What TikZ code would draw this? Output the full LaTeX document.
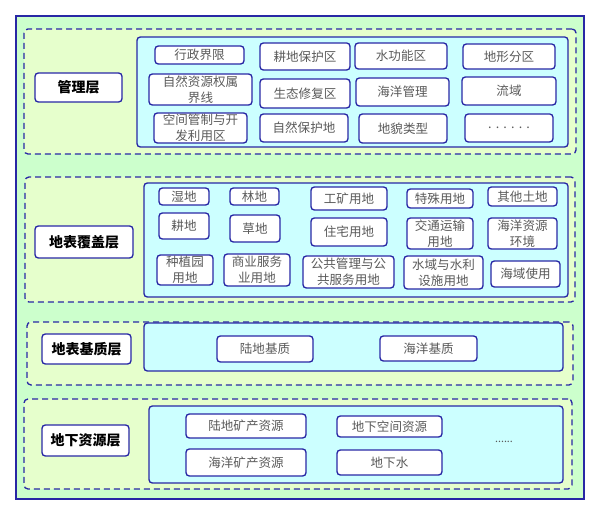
\documentclass[tikz,border=0pt]{standalone}
\usepackage{fontspec}
\newfontfamily\cjk{Noto Sans CJK SC}
\definecolor{outerfill}{HTML}{CCFFCC}
\definecolor{layerfill}{HTML}{E6FFCC}
\definecolor{cyanfill}{HTML}{CCFFFF}
\definecolor{edgeblue}{RGB}{40,40,165}
\definecolor{txtgray}{HTML}{5A5A5A}
\tikzset{
  item/.style={draw=edgeblue, line width=1pt, fill=white, rounded corners=2.5pt,
    inner sep=0pt, outer sep=0pt, align=center, text=txtgray,
    font=\cjk\fontsize{9.4}{12}\selectfont},
  lab/.style={item, text=black, font=\cjk\bfseries\fontsize{10.5}{12}\selectfont},
  panel/.style={draw=edgeblue, line width=1pt, fill=cyanfill, rounded corners=2.5pt,
    inner sep=0pt, outer sep=0pt},
  layer/.style={draw=edgeblue, line width=1pt, fill=layerfill, rounded corners=3pt,
    dash pattern=on 4.5pt off 3pt, inner sep=0pt, outer sep=0pt},
  outerbox/.style={draw=edgeblue, line width=0.9pt, fill=outerfill,
    inner sep=0pt, outer sep=0pt},
  plain/.style={text=txtgray, inner sep=0pt, font=\cjk\fontsize{8}{9}\selectfont}
}
\newcommand\ibox[7][item]{%
  \pgfmathsetmacro\bw{(#5-#3)*0.75}%
  \pgfmathsetmacro\bh{(#6-#4)*0.75}%
  \node[#1, minimum width=\bw pt, minimum height=\bh pt] (#2) at ({(#3+#5)/2},{(#4+#6)/2}) {#7};}
\begin{document}
\begin{tikzpicture}[x=0.75pt,y=-0.75pt]
\useasboundingbox (0,0) rectangle (600,516);
% outer
\ibox[outerbox]{outer}{16}{16}{584}{499}{}
% layer 1
\ibox[layer]{L1}{24}{29}{576}{154}{}
\ibox[panel]{P1}{137}{37}{568}{147}{}
\ibox[lab]{lab1}{35}{73}{122}{102}{管理层}
\ibox{a1}{155}{46}{244}{64}{行政界限}
\ibox{a2}{149}{74}{252}{105}{自然资源权属\\界线}
\ibox{a3}{154}{113}{247}{143}{空间管制与开\\发利用区}
\ibox{b1}{260}{43}{350}{70}{耕地保护区}
\ibox{b2}{260}{79}{350}{108}{生态修复区}
\ibox{b3}{260}{114}{348}{142}{自然保护地}
\ibox{c1}{355}{43}{447}{69}{水功能区}
\ibox{c2}{356}{78}{449}{106}{海洋管理}
\ibox{c3}{359}{114}{447}{143}{地貌类型}
\ibox{d1}{463}{44}{555}{69}{地形分区}
\ibox{d2}{462}{77}{556}{105}{流域}
\ibox{d3}{465}{114}{553}{142}{.\,\,.\,\,.\,\,.\,\,.\,\,.}
% layer 2
\ibox[layer]{L2}{25}{177}{575}{302}{}
\ibox[panel]{P2}{144}{183}{568}{297}{}
\ibox[lab]{lab2}{35}{226}{133}{258}{地表覆盖层}
\ibox{e1}{159}{188}{209}{205}{湿地}
\ibox{e2}{230}{188}{279}{205}{林地}
\ibox{e3}{159}{213}{209}{239}{耕地}
\ibox{e4}{230}{215}{280}{242}{草地}
\ibox{e5}{157}{255}{213}{285}{种植园\\用地}
\ibox{e6}{224}{254}{290}{286}{商业服务\\业用地}
\ibox{f1}{311}{187}{387}{210}{工矿用地}
\ibox{f2}{407}{189}{473}{208}{特殊用地}
\ibox{f3}{488}{187}{557}{206}{其他土地}
\ibox{f4}{311}{218}{387}{246}{住宅用地}
\ibox{f5}{407}{218}{473}{249}{交通运输\\用地}
\ibox{f6}{488}{218}{557}{249}{海洋资源\\环境}
\ibox{f7}{303}{256}{394}{288}{公共管理与公\\共服务用地}
\ibox{f8}{404}{256}{483}{289}{水域与水利\\设施用地}
\ibox{f9}{491}{261}{560}{287}{海域使用}
% layer 3
\ibox[layer]{L3}{27}{322}{573}{385}{}
\ibox[panel]{P3}{144}{323}{563}{371}{}
\ibox[lab]{lab3}{42}{334}{131}{364}{地表基质层}
\ibox{g1}{217}{336}{313}{362}{陆地基质}
\ibox{g2}{380}{336}{477}{361}{海洋基质}
% layer 4
\ibox[layer]{L4}{24}{399}{572}{489}{}
\ibox[panel]{P4}{149}{406}{563}{483}{}
\ibox[lab]{lab4}{42}{425}{129}{456}{地下资源层}
\ibox{h1}{186}{414}{306}{438}{陆地矿产资源}
\ibox{h2}{186}{449}{306}{476}{海洋矿产资源}
\ibox{h3}{337}{416}{442}{437}{地下空间资源}
\ibox{h4}{337}{450}{442}{475}{地下水}
\node[plain] (h5) at (504,442) {......};
\end{tikzpicture}
\end{document}
